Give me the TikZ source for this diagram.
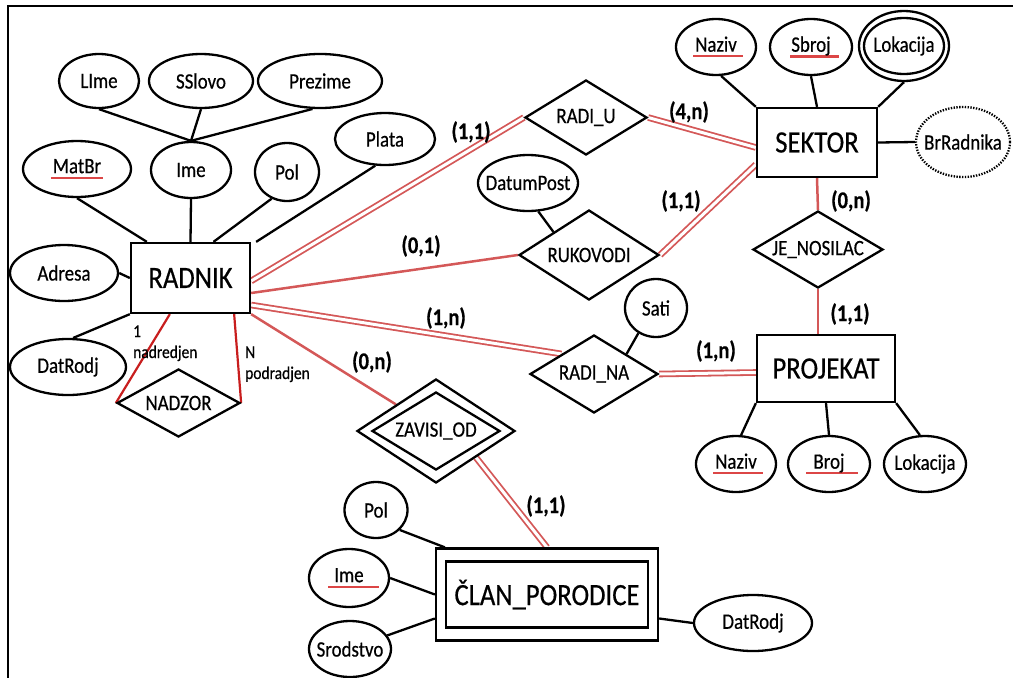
\documentclass[tikz,border=0pt]{standalone}
\usepackage{fontspec}
\setmainfont[FakeStretch=0.86,FakeBold=0.5]{Carlito}
\usetikzlibrary{shapes.geometric,calc}
\definecolor{rl}{RGB}{212,88,88}
\definecolor{rd}{RGB}{200,30,30}
\definecolor{ulr}{RGB}{220,70,70}
\newcommand{\z}[1]{\makebox[0pt]{#1}}
\newcommand{\rul}[3]{\setbox0\hbox{#3}\rlap{\kern-#1\raisebox{-5.8pt}{\textcolor{ulr}{\rule{\dimexpr\wd0+#1+#2\relax}{2.3pt}}}}\box0}
\pgfdeclarelayer{bg}
\pgfsetlayers{bg,main}
\begin{document}
\begin{tikzpicture}[x=1pt,y=-1pt,
  attr/.style={ellipse, draw, line width=2.3pt, fill=white, inner sep=0pt, font=\fontsize{22}{25}\selectfont},
  rel/.style={diamond, draw, line width=2.3pt, fill=white, inner sep=0pt, line join=miter, font=\fontsize{22}{25}\selectfont},
  ent/.style={rectangle, draw, line width=2.3pt, fill=white, inner sep=0pt, font=\fontsize{31}{35}\selectfont},
  con/.style={line width=2.3pt},
  part/.style={draw=rl, line width=1.8pt, double=white, double distance=3pt},
  pone/.style={draw=rl, line width=2.5pt},
  nred/.style={draw=rd, line width=2.2pt},
  card/.style={inner sep=0pt, font=\bfseries\fontsize{24}{27}\selectfont},
  small/.style={inner sep=0pt, anchor=base west, font=\fontsize{18}{21}\selectfont}]
\useasboundingbox (0,0) rectangle (1013,678);
\draw[line width=2.3pt] (1013,6) -- (8,6) -- (8,678);

% entities
\node[ent, minimum width=119pt, minimum height=70pt] (radnik) at (190.5,278) {RADNIK};
\node[ent, minimum width=120pt, minimum height=69pt] (sektor) at (817,142.5) {SEKTOR};
\node[ent, minimum width=138pt, minimum height=67pt] (projekat) at (826,368.5) {PROJEKAT};
\node[ent, minimum width=222pt, minimum height=92pt] (clan) at (547,594.5) {};
\node[ent, minimum width=202pt, minimum height=66pt] (clanin) at (547,594.5) {ČLAN\_PORODICE};

% attributes of RADNIK
\node[attr, minimum width=80pt, minimum height=54pt] (lime) at (99,81) {\z{LIme}};
\node[attr, minimum width=104pt, minimum height=54pt] (sslovo) at (201,81) {\z{SSlovo}};
\node[attr, minimum width=124pt, minimum height=54pt] (prezime) at (320,81) {\z{Prezime}};
\node[attr, minimum width=100pt, minimum height=52pt] (plata) at (385,139) {\z{Plata}};
\node[attr, minimum width=108pt, minimum height=56pt] (matbr) at (77,169) {\z{\rul{2pt}{2pt}{MatBr}}};
\node[attr, minimum width=80pt, minimum height=56pt] (imeA) at (191,170) {\z{Ime}};
\node[attr, minimum width=64pt, minimum height=58pt] (pol) at (287,172) {\z{Pol}};
\node[attr, minimum width=108pt, minimum height=56pt] (adresa) at (64,273) {\z{Adresa}};
\node[attr, minimum width=116pt, minimum height=56pt] (datrodj) at (68,367) {\z{DatRodj}};

% attributes of relationships
\node[attr, minimum width=100pt, minimum height=56pt] (datumpost) at (528,183) {\z{DatumPost}};
\node[attr, minimum width=62pt, minimum height=58pt] (sati) at (656,308) {\z{Sati}};

% attributes of SEKTOR
\node[attr, minimum width=80pt, minimum height=56pt] (naziv1) at (716,47) {\z{\rul{2pt}{6pt}{Naziv}}};
\node[attr, minimum width=82pt, minimum height=56pt] (sbroj) at (811,47) {\z{\rul{1pt}{8pt}{Sbroj}}};
\node[attr, minimum width=90pt, minimum height=70pt] (lok1) at (904,46) {};
\node[attr, minimum width=80pt, minimum height=56pt] (lok1in) at (904,46) {\z{Lokacija}};
\node[attr, minimum width=94pt, minimum height=70pt, dash pattern=on 1.4pt off 1.4pt] (brr) at (963,142) {\z{BrRadnika}};

% attributes of PROJEKAT
\node[attr, minimum width=80pt, minimum height=56pt] (naziv2) at (736,464) {\z{\rul{2pt}{6pt}{Naziv}}};
\node[attr, minimum width=82pt, minimum height=56pt] (broj) at (829,464) {\z{\rul{7pt}{13pt}{Broj}}};
\node[attr, minimum width=82pt, minimum height=56pt] (lok2) at (925,464) {\z{Lokacija}};

% attributes of CLAN_PORODICE
\node[attr, minimum width=63pt, minimum height=56pt] (pol2) at (376,510) {\z{Pol}};
\node[attr, minimum width=80pt, minimum height=58pt] (ime2) at (349,578) {\z{\rul{6pt}{15pt}{Ime}}};
\node[attr, minimum width=82pt, minimum height=56pt] (srod) at (350,649) {\z{Srodstvo}};
\node[attr, minimum width=118pt, minimum height=56pt] (datrodj2) at (753,623) {\z{DatRodj}};

% relationships
\node[rel, minimum width=122pt, minimum height=75pt] (radiu) at (586,117.5) {\z{RADI\_U}};
\node[rel, minimum width=140pt, minimum height=90pt] (rukovodi) at (589,255) {\z{RUKOVODI}};
\node[rel, minimum width=130pt, minimum height=77pt] (jen) at (818,249.5) {\z{JE\_NOSILAC}};
\node[rel, minimum width=128pt, minimum height=78pt] (radina) at (594,374) {\z{RADI\_NA}};
\node[rel, minimum width=123pt, minimum height=68pt] (nadzor) at (178.5,403) {\z{NADZOR}};
\node[rel, minimum width=158pt, minimum height=104pt] (zav) at (436,431) {};
\node[rel, minimum width=128pt, minimum height=78pt] (zavin) at (436,431) {\z{ZAVISI\_OD}};

% connectors
\begin{pgfonlayer}{bg}
\draw[con] (lime.south) -- (imeA.north);
\draw[con] (sslovo.south) -- (imeA.north);
\draw[con] (prezime.255) -- (imeA.north);
\draw[con] (matbr.south) -- ([xshift=17pt]radnik.north west);
\draw[con] (imeA.south) -- (radnik.north);
\draw[con] (pol.240) -- ([xshift=23pt]radnik.north);
\draw[con] (plata.250) -- ([xshift=5pt]radnik.north east);
\draw[con] (adresa.east) -- (radnik.west);
\draw[con] (datrodj.80) -- (radnik.south west);

\draw[nred] ([xshift=40pt]radnik.south west) -- (nadzor.west);
\draw[nred] ([xshift=-17pt]radnik.south east) -- (nadzor.east);

\draw[part] ([yshift=-3pt]radnik.east) -- (radiu.west);
\draw[pone] ([yshift=-15pt]radnik.east) -- (rukovodi.west);
\draw[part] ([yshift=-27pt]radnik.east) -- (radina.north west);
\draw[pone] (radnik.south east) -- (zav.north west);

\draw[part] (radiu.east) -- ([yshift=-5pt]sektor.west);
\draw[part] (rukovodi.east) -- ([yshift=-22pt]sektor.west);
\draw[pone] (sektor.south) -- (jen.north);
\draw[pone] (jen.south) -- (jen.south |- projekat.north);
\draw[part] (radina.east) -- ([yshift=-4pt]projekat.west);
\draw[con] (sati.235) -- (radina.north east);
\draw[con] (datumpost.-70) -- (rukovodi.north west);
\draw[part] (zav.south east) -- (clan.north);

\draw[con] (naziv1.-80) -- (sektor.north west);
\draw[con] (sbroj.south) -- (sektor.north);
\draw[con] (lok1.south) -- (sektor.north east);
\draw[con] (sektor.east) -- (brr.west);

\draw[con] (naziv2.80) -- (projekat.south west);
\draw[con] (broj.north) -- (projekat.south);
\draw[con] (lok2.100) -- (projekat.south east);

\draw[con] (pol2.-40) -- ([xshift=10pt]clan.north west);
\draw[con] (ime2.east) -- (clan.west);
\draw[con] (srod.20) -- ([yshift=-24pt]clan.west);
\draw[con] ([yshift=-24pt]clan.east) -- (datrodj2.west);
\end{pgfonlayer}

% role labels
\node[small] (r1a) at (133,337) {1};
\node[small] (r1b) at (133,358) {nadredjen};
\node[small] (rNa) at (245,358) {N};
\node[small] (rNb) at (245,379) {podradjen};

% cardinalities
\node[card] (c1) at (471,132) {(1,1)};
\node[card] (c2) at (689,112) {(4,n)};
\node[card] (c3) at (421,246) {(0,1)};
\node[card] (c4) at (681,201) {(1,1)};
\node[card] (c5) at (851,201) {(0,n)};
\node[card] (c6) at (850,314) {(1,1)};
\node[card] (c7) at (446,318) {(1,n)};
\node[card] (c8) at (716,351) {(1,n)};
\node[card] (c9) at (372,362) {(0,n)};
\node[card] (c10) at (546,506) {(1,1)};
\end{tikzpicture}
\end{document}
